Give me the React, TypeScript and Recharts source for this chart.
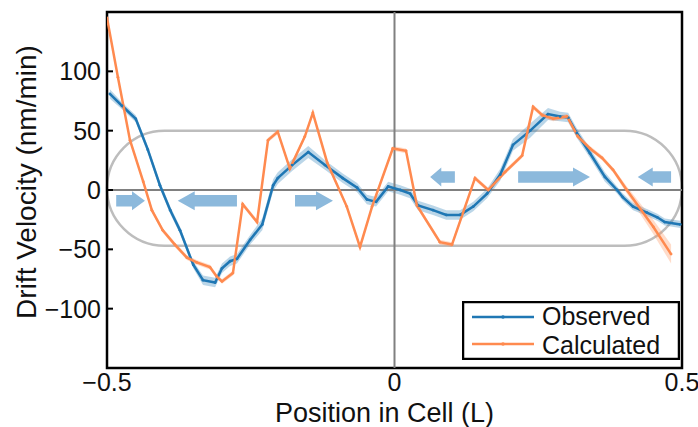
import React from 'react';
import {
  ComposedChart, Line, Area, XAxis, YAxis, ReferenceLine, ReferenceArea, Label,
} from 'recharts';

// Observed drift velocity (blue) with its error half-width
const obsX = [
  -0.495, -0.474, -0.450, -0.429, -0.408, -0.390, -0.373, -0.350, -0.333, -0.312,
  -0.300, -0.286, -0.274, -0.251, -0.230, -0.211, -0.203, -0.178, -0.150, -0.121,
  -0.090, -0.065, -0.048, -0.032, -0.011, 0.010, 0.027, 0.041, 0.067, 0.090,
  0.114, 0.137, 0.161, 0.184, 0.206, 0.236, 0.267, 0.288, 0.302, 0.317,
  0.340, 0.366, 0.387, 0.397, 0.415, 0.439, 0.457, 0.470, 0.497,
];
const obsY = [
  81, 71, 60, 34, 4, -17, -34, -63, -76, -78,
  -66, -60, -58, -42, -29, 4, 10, 21, 32, 21,
  10, 2, -8, -10, 3, 0, -3, -13, -17, -21,
  -21, -14, -3, 13, 38, 50, 64, 62, 61, 48,
  31, 11, 0, -6, -14, -19, -23, -27, -29,
];
const obsErr = [
  4, 3, 3, 3, 3, 3, 3, 3, 4, 4,
  4, 4, 4, 4, 5, 5, 5, 5, 5, 4,
  4, 4, 4, 4, 4, 4, 4, 4, 4, 4,
  4, 4, 4, 5, 5, 6, 5, 4, 4, 4,
  4, 4, 3, 3, 3, 3, 3, 3, 3,
];

// Calculated drift velocity (orange)
const calcX = [
  -0.500, -0.481, -0.460, -0.437, -0.422, -0.403, -0.382, -0.361, -0.344, -0.321,
  -0.309, -0.300, -0.281, -0.264, -0.239, -0.220, -0.203, -0.182, -0.156, -0.142,
  -0.117, -0.083, -0.060, -0.039, -0.003, 0.020, 0.039, 0.079, 0.100, 0.140,
  0.163, 0.192, 0.222, 0.241, 0.257, 0.276, 0.300, 0.319, 0.340, 0.361,
  0.380, 0.404, 0.450, 0.481,
];
const calcY = [
  145, 95, 42, 7, -17, -34, -46, -57, -61, -65,
  -73, -77, -70, -12, -27, 42, 49, 18, 45, 65,
  23, -14, -48, -14, 35, 33, -13, -44, -46, 10,
  0, 15, 29, 70, 63, 60, 62, 45, 35, 27,
  17, 0, -31, -54,
];
const calcErr = [
  2, 2, 2, 2, 2, 2, 2, 2, 2, 2,
  2, 2, 2, 2, 2, 2, 2, 2, 2, 2,
  2, 2, 2, 2, 2, 2, 2, 2, 2, 2,
  2, 2, 2, 2, 2, 2, 2, 2, 2, 2,
  2, 3, 6, 8,
];

const xTicks = [-0.5, 0, 0.5];
const yTicks = [-100, -50, 0, 50, 100];

// flow arrows: tail x, head x, centre y
const arrowTail = [-0.484, -0.274, -0.173, 0.105, 0.215, 0.481];
const arrowHead = [-0.434, -0.377, -0.107, 0.062, 0.340, 0.423];
const arrowY = [-9, -9, -9, 11, 11, 11];

// cell outline (pill)
const cellTop = 50;
const cellBottom = -47;

const FONT = '"Liberation Sans", Arial, Helvetica, sans-serif';
const BLUE = '#1f77b4';
const ORANGE = '#ff8a4f';
const ARROW = '#8cb9dc';

const obsData = obsX.map((x, i) => ({ x, obs: obsY[i], band: [obsY[i] - obsErr[i], obsY[i] + obsErr[i]] }));
const calcData = calcX.map((x, i) => ({ x, calc: calcY[i], band: [calcY[i] - calcErr[i], calcY[i] + calcErr[i]] }));
const arrows = arrowTail.map((t, i) => ({ t, h: arrowHead[i], y: arrowY[i] }));

const fmt = (v: number) => (v === 0 ? '0' : `${v < 0 ? '\u2212' : ''}${Math.abs(v)}`);

const arrowShape = (pointsRight: boolean) => (props: any) => {
  const { x, y, width, height } = props;
  const head = Math.min(17, width * 0.45);
  const cy = y + height / 2;
  const body = height * 0.3;
  const pts = pointsRight
    ? [
      [x, cy - body], [x + width - head, cy - body], [x + width - head, y],
      [x + width, cy], [x + width - head, y + height], [x + width - head, cy + body], [x, cy + body],
    ]
    : [
      [x + width, cy - body], [x + head, cy - body], [x + head, y],
      [x, cy], [x + head, y + height], [x + head, cy + body], [x + width, cy + body],
    ];
  return <polygon points={pts.map(p => p.join(',')).join(' ')} fill={ARROW} />;
};

const pillShape = (props: any) => {
  const { x, y, width, height } = props;
  return (
    <rect x={x} y={y} width={width} height={height} rx={height / 2} ry={height / 2}
      fill="none" stroke="#bdbdbd" strokeWidth={2.5} />
  );
};

function LegendBox() {
  return (
    <svg width={218} height={59} style={{ position: 'absolute', left: 462, top: 301 }}>
      <rect x={1} y={1} width={216} height={57} fill="#fff" stroke="#000" strokeWidth={2.5} />
      <line x1={10} x2={72} y1={16} y2={16} stroke={BLUE} strokeWidth={2.5} />
      <circle cx={41} cy={16} r={1.8} fill={BLUE} />
      <line x1={10} x2={72} y1={43} y2={43} stroke={ORANGE} strokeWidth={2.5} />
      <circle cx={41} cy={43} r={1.8} fill={ORANGE} />
      <text x={80} y={24} fontSize={25} fontFamily={FONT} fill="#111">Observed</text>
      <text x={80} y={53} fontSize={25} fontFamily={FONT} fill="#111">Calculated</text>
    </svg>
  );
}

export default function App() {
  const tick = { fontSize: 25, fill: '#111', fontFamily: FONT };
  return (
    <div style={{ position: 'absolute', left: 0, top: 0, width: 698, height: 427, background: '#fff' }}>
      <ComposedChart width={698} height={427} margin={{ top: 12, right: 16, bottom: 0, left: 0 }}>
        <XAxis
          dataKey="x" type="number" domain={[-0.5, 0.5]} ticks={xTicks} allowDataOverflow
          tickFormatter={fmt} tick={tick} tickSize={0} tickMargin={5} height={59}
          axisLine={false}
        >
          <Label value="Position in Cell (L)" position="center" dy={15} dx={-10}
            style={{ fontSize: 27, fill: '#111', fontFamily: FONT }} />
        </XAxis>
        <YAxis
          type="number" domain={[-150, 150]} ticks={yTicks} allowDataOverflow
          tickFormatter={fmt} tick={tick} width={107} tickSize={-6} tickMargin={12}
          tickLine={{ stroke: '#000', strokeWidth: 2 }} axisLine={false}
        >
          <Label value="Drift Velocity (nm/min)" angle={-90} position="center" dx={-27} dy={-8}
            style={{ fontSize: 28, fill: '#111', fontFamily: FONT, textAnchor: 'middle' }} />
        </YAxis>

        <ReferenceArea x1={-0.5} x2={0.5} y1={cellBottom} y2={cellTop} shape={pillShape} ifOverflow="visible" />
        <ReferenceLine y={0} stroke="#808080" strokeWidth={2} />
        <ReferenceLine x={0} stroke="#808080" strokeWidth={2} />
        {arrows.map((a, i) => (
          <ReferenceArea key={`arrow-${i}`} x1={Math.min(a.t, a.h)} x2={Math.max(a.t, a.h)}
            y1={a.y - 8} y2={a.y + 8} shape={arrowShape(a.h > a.t)} />
        ))}

        <Area data={obsData} dataKey="band" type="linear" stroke="none" fill={BLUE} fillOpacity={0.3}
          isAnimationActive={false} legendType="none" />
        <Area data={calcData} dataKey="band" type="linear" stroke="none" fill={ORANGE} fillOpacity={0.3}
          isAnimationActive={false} legendType="none" />
        <Line data={obsData} dataKey="obs" name="Observed" type="linear" stroke={BLUE} strokeWidth={2.5}
          dot={{ r: 1.4, fill: BLUE, stroke: 'none' }} isAnimationActive={false} />
        <Line data={calcData} dataKey="calc" name="Calculated" type="linear" stroke={ORANGE} strokeWidth={2.5}
          dot={{ r: 1.4, fill: ORANGE, stroke: 'none' }} isAnimationActive={false} />

        <ReferenceArea x1={-0.5} x2={0.5} y1={-150} y2={150} fill="none" stroke="#000" strokeWidth={2.5}
          ifOverflow="visible" />
      </ComposedChart>
      <LegendBox />
    </div>
  );
}
